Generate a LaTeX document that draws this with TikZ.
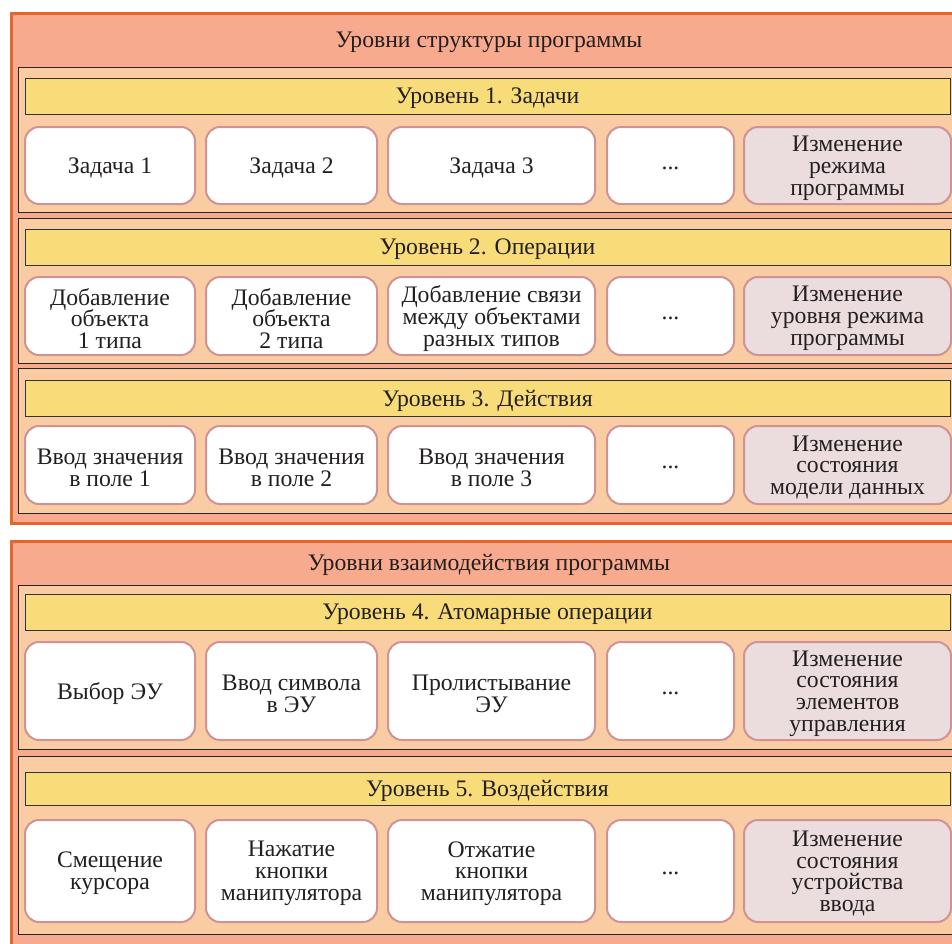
\documentclass[tikz,border=0pt]{standalone}
\usepackage{fontspec}
\setmainfont{Liberation Serif}
\definecolor{salmonF}{HTML}{F8AA8E}
\definecolor{orangeB}{HTML}{E0692A}
\definecolor{peachF}{HTML}{F9CCA4}
\definecolor{yellowF}{HTML}{F9DC7A}
\definecolor{pinkB}{HTML}{D09294}
\definecolor{pinkF}{HTML}{EBDCDD}
\definecolor{txt}{HTML}{231F20}
\tikzset{
  outerbox/.style={draw=orangeB, line width=3pt, fill=salmonF, inner sep=0pt},
  panelbox/.style={draw=black!85, line width=0.9pt, fill=peachF, inner sep=0pt},
  barbox/.style={draw=black!80, line width=0.9pt, fill=yellowF, inner sep=0pt},
  itembox/.style={draw=pinkB, line width=2pt, fill=white, rounded corners=14pt, inner sep=0pt},
  itemlast/.style={itembox, fill=pinkF},
  lbl/.style={text=txt, align=center, inner sep=0pt, font={\fontsize{23.7}{21.8}\selectfont\lineskiplimit=-30pt\lineskip=0pt}}
}
% name, style, x1, y1, x2, y2, text
\newcommand{\mybox}[7]{%
  \node[#2, minimum width={(#5-#3)*1pt}, minimum height={(#6-#4)*1pt}] (#1) at ({(#3+#5)/2},{(#4+#6)/2}) {};
  \node[lbl] (#1-t) at ([yshift=-2.5pt]#1.center) {#7};}
\begin{document}
\begin{tikzpicture}[x=1pt,y=-1pt]
\useasboundingbox (0,0) rectangle (952,943);
% outer boxes
\node[outerbox, minimum width=959pt, minimum height=510pt] (outA) at (490.5,268) {};
\node[outerbox, minimum width=959pt, minimum height=429pt] (outB) at (490.5,755.5) {};
\node[lbl] (titA) at (489,42) {Уровни структуры программы};
\node[lbl] (titB) at (489,565) {Уровни взаимодействия программы};
% panels
\mybox{p1}{panelbox}{18}{67}{965}{212}{}
\mybox{p2}{panelbox}{18}{218}{965}{363}{}
\mybox{p3}{panelbox}{18}{368}{965}{513}{}
\mybox{p4}{panelbox}{18}{585}{965}{749}{}
\mybox{p5}{panelbox}{18}{756}{965}{934}{}
% bars
\mybox{b1}{barbox}{25}{78}{950}{114}{Уровень 1. Задачи}
\mybox{b2}{barbox}{25}{229}{950}{265}{Уровень 2. Операции}
\mybox{b3}{barbox}{25}{380}{950}{416}{Уровень 3. Действия}
\mybox{b4}{barbox}{25}{594}{950}{630}{Уровень 4. Атомарные операции}
\mybox{b5}{barbox}{25}{772}{950}{805}{Уровень 5. Воздействия}
% level 1
\mybox{i11}{itembox}{25}{127}{195}{204}{Задача 1}
\mybox{i12}{itembox}{206}{127}{377}{204}{Задача 2}
\mybox{i13}{itembox}{388}{127}{595}{204}{Задача 3}
\mybox{i14}{itembox}{607}{127}{734}{204}{...}
\mybox{i15}{itemlast}{744}{127}{951}{204}{Изменение\\режима\\программы}
% level 2
\mybox{i21}{itembox}{25}{277}{195}{355}{Добавление\\объекта\\1 типа}
\mybox{i22}{itembox}{206}{277}{377}{355}{Добавление\\объекта\\2 типа}
\mybox{i23}{itembox}{388}{277}{595}{355}{Добавление связи\\между объектами\\разных типов}
\mybox{i24}{itembox}{607}{277}{734}{355}{...}
\mybox{i25}{itemlast}{744}{277}{951}{355}{Изменение\\уровня режима\\программы}
% level 3
\mybox{i31}{itembox}{25}{426}{195}{504}{Ввод значения\\в поле 1}
\mybox{i32}{itembox}{206}{426}{377}{504}{Ввод значения\\в поле 2}
\mybox{i33}{itembox}{388}{426}{595}{504}{Ввод значения\\в поле 3}
\mybox{i34}{itembox}{607}{426}{734}{504}{...}
\mybox{i35}{itemlast}{744}{426}{951}{504}{Изменение\\состояния\\модели данных}
% level 4
\mybox{i41}{itembox}{25}{642}{195}{740}{Выбор ЭУ}
\mybox{i42}{itembox}{206}{642}{377}{740}{Ввод символа\\в ЭУ}
\mybox{i43}{itembox}{388}{642}{595}{740}{Пролистывание\\ЭУ}
\mybox{i44}{itembox}{607}{642}{734}{740}{...}
\mybox{i45}{itemlast}{744}{642}{951}{740}{Изменение\\состояния\\элементов\\управления}
% level 5
\mybox{i51}{itembox}{25}{820}{195}{922}{Смещение\\курсора}
\mybox{i52}{itembox}{206}{820}{377}{922}{Нажатие\\кнопки\\манипулятора}
\mybox{i53}{itembox}{388}{820}{595}{922}{Отжатие\\кнопки\\манипулятора}
\mybox{i54}{itembox}{607}{820}{734}{922}{...}
\mybox{i55}{itemlast}{744}{820}{951}{922}{Изменение\\состояния\\устройства\\ввода}
\end{tikzpicture}
\end{document}
